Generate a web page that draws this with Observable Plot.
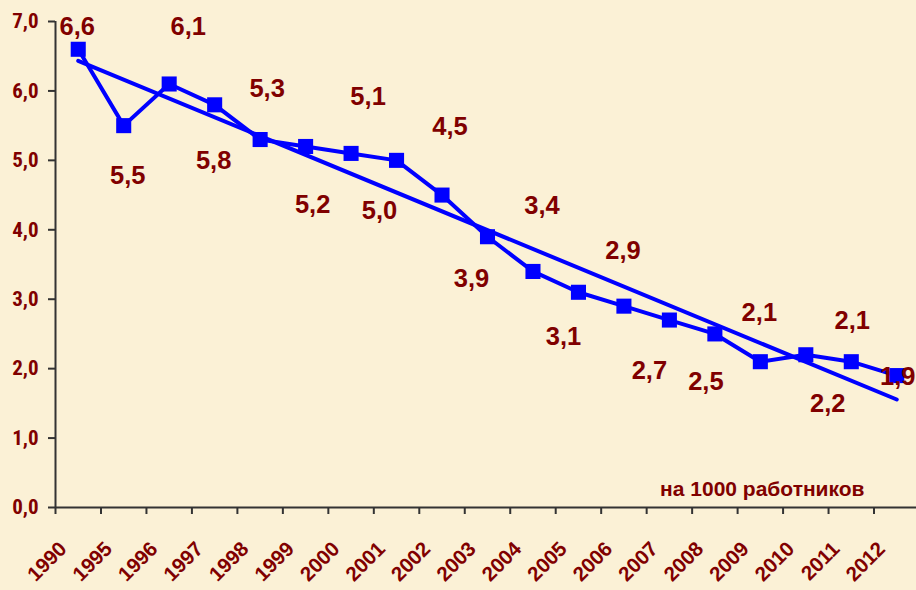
<!DOCTYPE html>
<html><head><meta charset="utf-8">
<script src="https://cdn.jsdelivr.net/npm/d3@7"></script>
<script src="https://cdn.jsdelivr.net/npm/@observablehq/plot@0.6"></script>
<style>
html,body{margin:0;padding:0;background:#FBF1D6;}
#chart{width:916px;height:590px;overflow:hidden;}
</style></head><body><div id="chart"></div>
<script>
const years = ["1990","1995","1996","1997","1998","1999","2000","2001","2002","2003","2004","2005","2006","2007","2008","2009","2010","2011","2012"];
const values = [6.6,5.5,6.1,5.8,5.3,5.2,5.1,5.0,4.5,3.9,3.4,3.1,2.9,2.7,2.5,2.1,2.2,2.1,1.9];
const yTicks = [0,1,2,3,4,5,6,7];
const unitLabel = "на 1000 работников";

// label placement (style): pixel offsets of each value label from its point
const labelDx = [-1,4,19,-1,7,7,17,-17,8,-16,9,-15,-1,-20,-9,-1,22,1,1];
const labelDy = [-22,50,-57,56,-51,58,-57,50,-68,42,-66,45,-55,51,48,-49,49,-41,1];

const RED = "#800000", BLUE = "#0000FF", AXIS = "#333333";
const FONT = "'Liberation Sans', Arial, sans-serif";
const NARROW = "'Liberation Sans Narrow', 'Arial Narrow', 'Roboto Condensed', sans-serif";
const fmt = v => v.toFixed(1).replace(".", ",");
const data = years.map((year, i) => ({i, year, value: values[i]}));
const xDomain = [-0.5, years.length - 0.5];

const labels = data.map((d, i) => Plot.text([d], {
  x: "i", y: "value", text: d => fmt(d.value),
  dx: labelDx[i], dy: labelDy[i],
  fontSize: 25.5, fontWeight: "bold", fill: RED, fontFamily: FONT
}));

const chart = Plot.plot({
  width: 916, height: 590,
  marginLeft: 55, marginRight: 0, marginTop: 21, marginBottom: 83,
  style: {background: "transparent", fontFamily: FONT, overflow: "visible"},
  x: {type: "linear", domain: xDomain, range: [55, 919], label: null},
  y: {domain: [0, 7], label: null},
  marks: [
    Plot.axisY({ticks: yTicks, tickSize: 7, tickPadding: 10, tickFormat: fmt, label: null,
      fontSize: 21, fontWeight: "bold", fill: RED, stroke: AXIS, strokeWidth: 2, fontFamily: NARROW}),
    Plot.axisX({ticks: years.map((_, i) => i - 0.5), tickSize: 7, tickFormat: () => "", label: null,
      stroke: AXIS, strokeWidth: 2}),
    Plot.axisX({ticks: years.map((_, i) => i), tickSize: 0, tickPadding: 38, tickRotate: -45, label: null,
      tickFormat: i => years[i], fontSize: 20.5, fontWeight: "bold", fill: RED, dx: -15, fontFamily: FONT}),
    Plot.ruleX([xDomain[0]], {stroke: AXIS, strokeWidth: 2}),
    Plot.ruleY([0], {stroke: AXIS, strokeWidth: 2}),
    Plot.linearRegressionY(data, {x: "i", y: "value", stroke: BLUE, strokeWidth: 4, ci: 0}),
    Plot.line(data, {x: "i", y: "value", stroke: BLUE, strokeWidth: 4}),
    Plot.dot(data, {x: "i", y: "value", symbol: "square", r: 8.5, fill: BLUE}),
    ...labels,
    Plot.text([unitLabel], {frameAnchor: "bottom-right", text: d => d, textAnchor: "end",
      lineAnchor: "middle", dx: -52, dy: -18, fontSize: 21, fontWeight: "bold", fill: RED, fontFamily: FONT})
  ]
});
document.getElementById("chart").appendChild(chart);
</script></body></html>
